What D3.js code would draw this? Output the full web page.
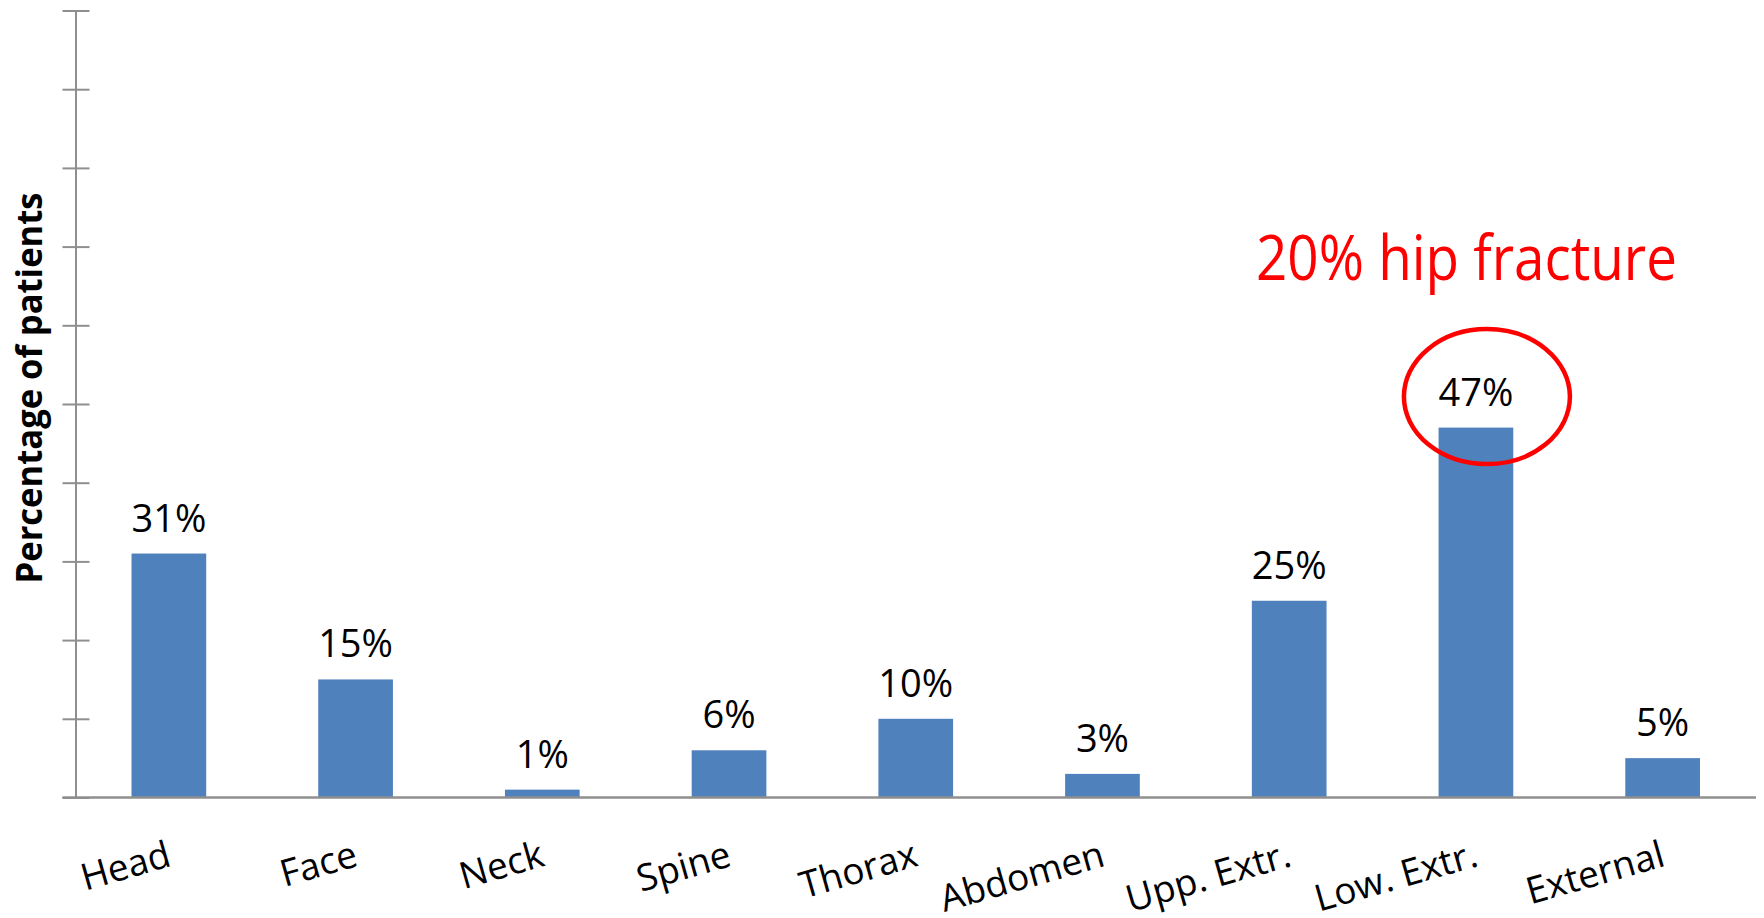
<!DOCTYPE html>
<html>
<head>
<meta charset="utf-8">
<script src="https://cdn.jsdelivr.net/npm/d3@7"></script>
<style>
  html, body { margin: 0; padding: 0; background: #ffffff; }
  svg { display: block; }
  text { font-family: "Open Sans", "Noto Sans", sans-serif; }
</style>
</head>
<body>
<svg id="chart" width="1764" height="918"></svg>
<script>
// Injured body regions, share of patients (%)
const categories = ["Head", "Face", "Neck", "Spine", "Thorax", "Abdomen", "Upp. Extr.", "Low. Extr.", "External"];
const percentages = [31, 15, 1, 6, 10, 3, 25, 47, 5];
const yTicks = [0, 10, 20, 30, 40, 50, 60, 70, 80, 90, 100];
const callout = { category: "Low. Extr.", text: "20% hip fracture" };

const svg = d3.select("#chart");
const axisColor = "#8f8f8f";
const barColor = "#4f81bd";

const x = d3.scaleBand()
  .domain(categories)
  .range([75.5, 1756])
  .paddingInner(0.6)
  .paddingOuter(0.3);

const y = d3.scaleLinear()
  .domain([0, 100])
  .range([797.5, 10.5]);

// Vertical axis: unlabeled ticks that cross the axis line
const yAxis = svg.append("g")
  .attr("transform", `translate(${x.range()[0]},0)`)
  .call(d3.axisLeft(y).tickValues(yTicks).tickSize(13).tickSizeOuter(0).tickFormat(""));
yAxis.select(".domain").attr("stroke", axisColor).attr("stroke-width", 2);
yAxis.selectAll(".tick line").attr("stroke", axisColor).attr("stroke-width", 2).attr("x2", -13).attr("x1", 14);

// Bars
svg.append("g")
  .selectAll("rect")
  .data(categories)
  .join("rect")
  .attr("x", d => x(d))
  .attr("width", x.bandwidth())
  .attr("y", (d, i) => y(percentages[i]))
  .attr("height", (d, i) => y(0) - y(percentages[i]))
  .attr("fill", barColor);

// Baseline
svg.append("line")
  .attr("x1", x.range()[0] - 13)
  .attr("x2", x.range()[1])
  .attr("y1", y(0))
  .attr("y2", y(0))
  .attr("stroke", axisColor)
  .attr("stroke-width", 2.5);

// Category labels, tilted
const xAxis = svg.append("g")
  .attr("transform", `translate(0,${y(0)})`)
  .call(d3.axisBottom(x).tickSize(0));
xAxis.select(".domain").remove();
xAxis.selectAll(".tick text")
  .attr("fill", "#000")
  .attr("font-size", 37)
  .attr("text-anchor", "end")
  .attr("dy", 0)
  .attr("x", 4)
  .attr("y", 68)
  .attr("transform", "rotate(-16 4 68)");

// Value labels
svg.append("g")
  .selectAll("text")
  .data(categories)
  .join("text")
  .attr("x", d => x(d) + x.bandwidth() / 2)
  .attr("y", (d, i) => y(percentages[i]) - 22)
  .attr("text-anchor", "middle")
  .attr("font-size", 38)
  .attr("fill", "#000")
  .text((d, i) => percentages[i] + "%");

// Y axis title
svg.append("text")
  .attr("transform", "translate(42,388) rotate(-90)")
  .attr("text-anchor", "middle")
  .attr("font-size", 35)
  .attr("font-weight", "bold")
  .attr("fill", "#000")
  .attr("textLength", 391)
  .attr("lengthAdjust", "spacingAndGlyphs")
  .text("Percentage of patients");

// Callout: ellipse around the lower-extremity value and red note
const ci = categories.indexOf(callout.category);
const cx = x(callout.category) + x.bandwidth() / 2 + 11;
const cy = y(percentages[ci]) - 31;
svg.append("ellipse")
  .attr("cx", cx)
  .attr("cy", cy)
  .attr("rx", 83)
  .attr("ry", 67.5)
  .attr("fill", "none")
  .attr("stroke", "#ff0000")
  .attr("stroke-width", 4.5);

svg.append("text")
  .attr("x", 1256)
  .attr("y", 280)
  .attr("font-size", 63)
  .attr("fill", "#ff0000")
  .attr("textLength", 421)
  .attr("lengthAdjust", "spacingAndGlyphs")
  .text(callout.text);
</script>
</body>
</html>
